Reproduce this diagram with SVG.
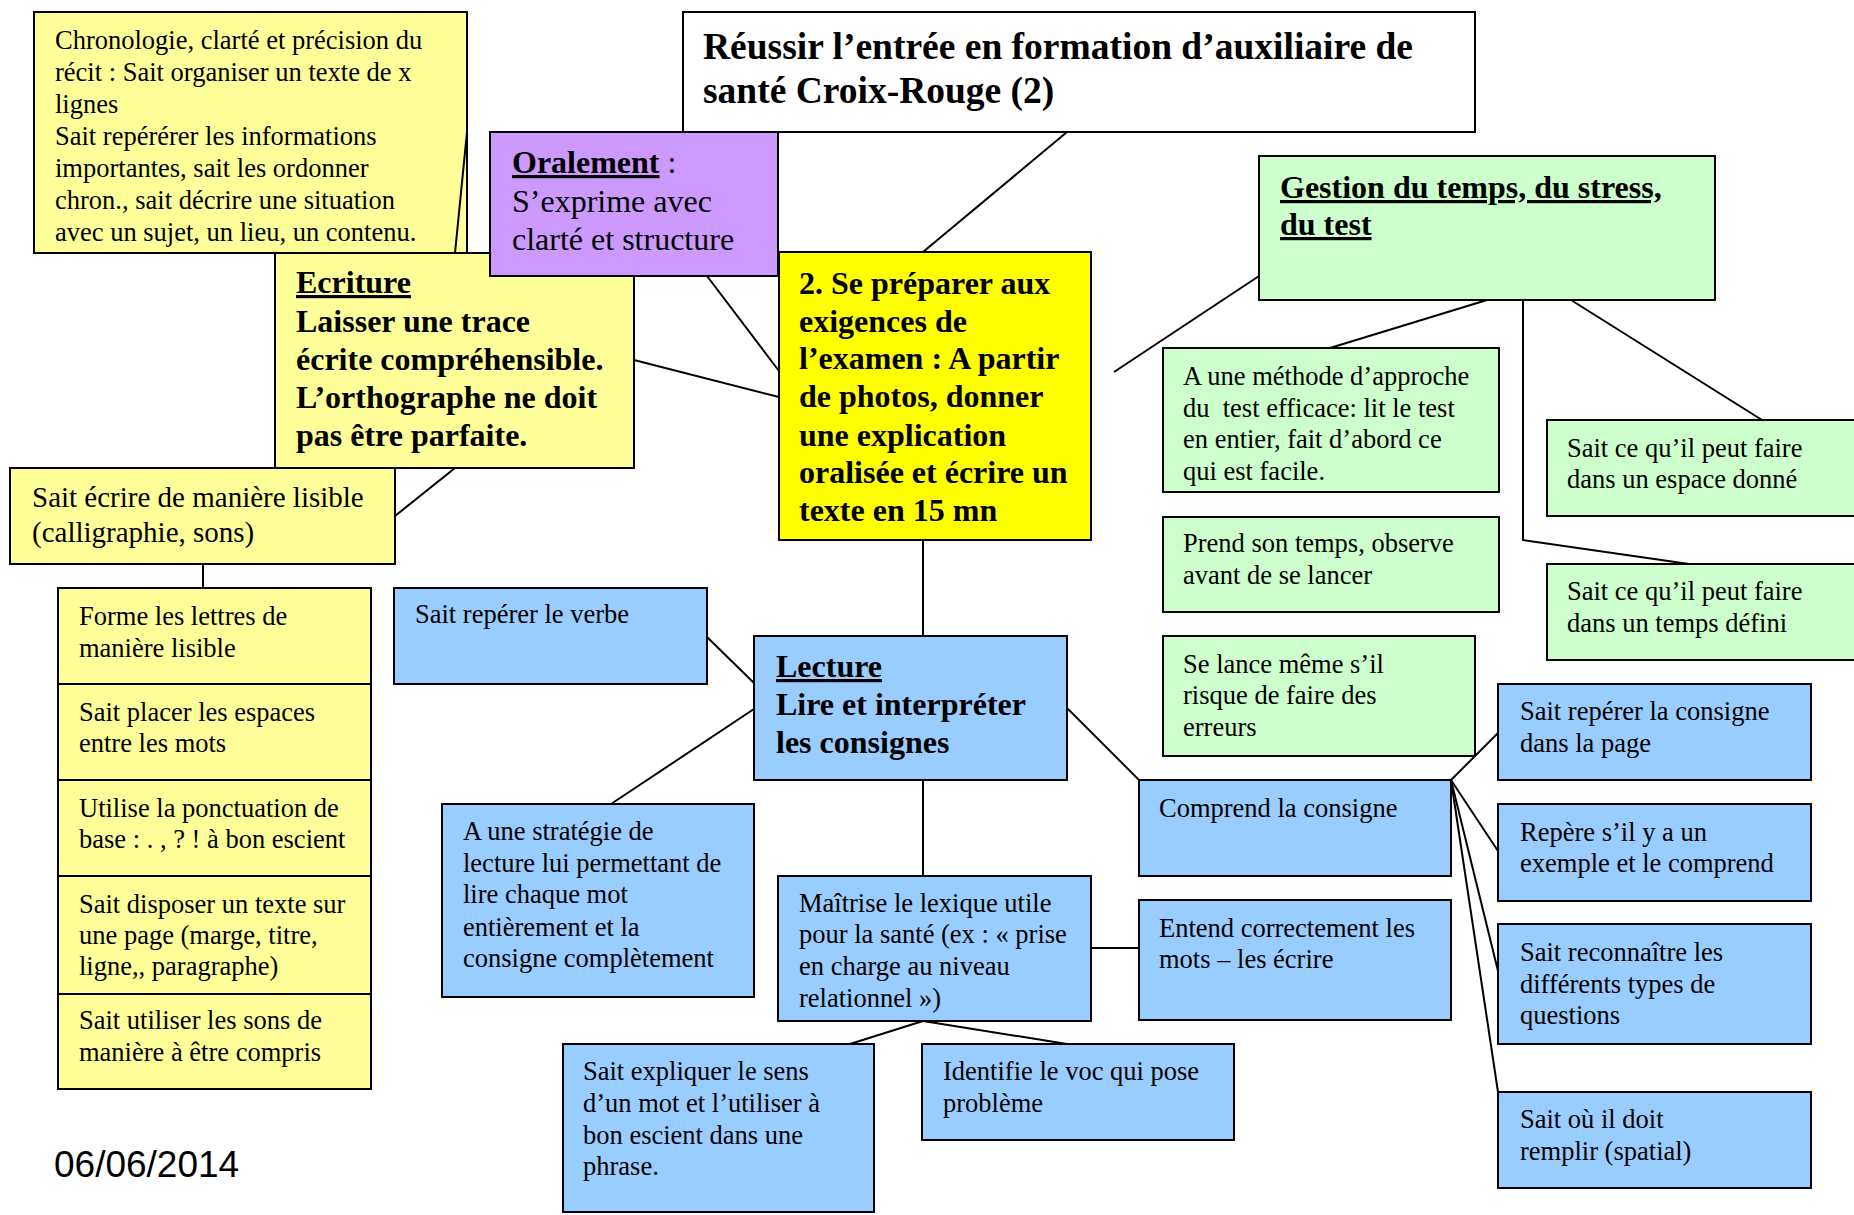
<svg xmlns="http://www.w3.org/2000/svg" width="1854" height="1215" viewBox="0 0 1854 1215">
<style>
rect{stroke:#000;stroke-width:2}
.y{fill:#FFFF99}.Y{fill:#FFFF00}.p{fill:#CC99FF}.g{fill:#CCFFCC}.b{fill:#99CCFF}.w{fill:#FFFFFF}
text{font-family:"Liberation Serif","Times New Roman",serif;fill:#000}
.t{font-size:26.5px}
.tw{font-size:29px}
.to{font-size:32px}
.tb{font-size:32px;font-weight:bold}
.tt{font-size:37.5px;font-weight:bold}
.u{text-decoration:underline}
.date{font-family:"Liberation Sans",Arial,sans-serif;font-size:37px}
#connectors line,#connectors polyline{stroke:#000;stroke-width:2;fill:none}
</style>
<rect x="0" y="0" width="1854" height="1215" fill="#FFFFFF" style="stroke:none"/>

<g id="chronologie">
<rect class="y" x="34" y="12" width="433" height="241"/>
<text class="t" x="55" y="49">Chronologie, clarté et précision du</text>
<text class="t" x="55" y="81">récit : Sait organiser un texte de x</text>
<text class="t" x="55" y="113">lignes</text>
<text class="t" x="55" y="145">Sait repérérer les informations</text>
<text class="t" x="55" y="177">importantes, sait les ordonner</text>
<text class="t" x="55" y="209">chron., sait décrire une situation</text>
<text class="t" x="55" y="241">avec un sujet, un lieu, un contenu.</text>
</g>

<g id="ecriture">
<rect class="y" x="275" y="253" width="359" height="215"/>
<text class="tb u" x="296" y="293">Ecriture</text>
<text class="tb" x="296" y="332">Laisser une trace</text>
<text class="tb" x="296" y="370">écrite compréhensible.</text>
<text class="tb" x="296" y="408">L’orthographe ne doit</text>
<text class="tb" x="296" y="446">pas être parfaite.</text>
</g>

<g id="oralement">
<rect class="p" x="490" y="132" width="288" height="144"/>
<text class="to" x="512" y="173"><tspan class="u" font-weight="bold">Oralement</tspan> :</text>
<text class="to" x="512" y="212">S’exprime avec</text>
<text class="to" x="512" y="250">clarté et structure</text>
</g>

<g id="titre">
<rect class="w" x="683" y="12" width="792" height="120"/>
<text class="tt" x="703" y="59">Réussir l’entrée en formation d’auxiliaire de</text>
<text class="tt" x="703" y="103">santé Croix-Rouge (2)</text>
</g>

<g id="central">
<rect class="Y" x="779" y="252" width="312" height="288"/>
<text class="tb" x="799" y="294">2. Se préparer aux</text>
<text class="tb" x="799" y="332">exigences de</text>
<text class="tb" x="799" y="369">l’examen : A partir</text>
<text class="tb" x="799" y="407">de photos, donner</text>
<text class="tb" x="799" y="446">une explication</text>
<text class="tb" x="799" y="483">oralisée et écrire un</text>
<text class="tb" x="799" y="521">texte en 15 mn</text>
</g>

<g id="gestion">
<rect class="g" x="1259" y="156" width="456" height="144"/>
<text class="tb u" x="1280" y="198">Gestion du temps, du stress,</text>
<text class="tb u" x="1280" y="235">du test</text>
</g>

<g id="methode">
<rect class="g" x="1163" y="348" width="336" height="144"/>
<text class="t" x="1183" y="385">A une méthode d’approche</text>
<text class="t" x="1183" y="417">du&#160; test efficace: lit le test</text>
<text class="t" x="1183" y="448">en entier, fait d’abord ce</text>
<text class="t" x="1183" y="480">qui est facile.</text>
</g>

<g id="prend-temps">
<rect class="g" x="1163" y="517" width="336" height="95"/>
<text class="t" x="1183" y="552">Prend son temps, observe</text>
<text class="t" x="1183" y="584">avant de se lancer</text>
</g>

<g id="se-lance">
<rect class="g" x="1163" y="636" width="312" height="120"/>
<text class="t" x="1183" y="673">Se lance même s’il</text>
<text class="t" x="1183" y="704">risque de faire des</text>
<text class="t" x="1183" y="736">erreurs</text>
</g>

<g id="espace">
<rect class="g" x="1547" y="420" width="315" height="96"/>
<text class="t" x="1567" y="457">Sait ce qu’il peut faire</text>
<text class="t" x="1567" y="488">dans un espace donné</text>
</g>

<g id="temps-defini">
<rect class="g" x="1547" y="564" width="315" height="96"/>
<text class="t" x="1567" y="600">Sait ce qu’il peut faire</text>
<text class="t" x="1567" y="632">dans un temps défini</text>
</g>

<g id="ecrire-lisible">
<rect class="y" x="10" y="468" width="385" height="96"/>
<text class="tw" x="32" y="507">Sait écrire de manière lisible</text>
<text class="tw" x="32" y="542">(calligraphie, sons)</text>
</g>

<g id="forme-lettres">
<rect class="y" x="58" y="588" width="313" height="96"/>
<text class="t" x="79" y="625">Forme les lettres de</text>
<text class="t" x="79" y="657">manière lisible</text>
</g>
<g id="espaces">
<rect class="y" x="58" y="684" width="313" height="96"/>
<text class="t" x="79" y="721">Sait placer les espaces</text>
<text class="t" x="79" y="752">entre les mots</text>
</g>
<g id="ponctuation">
<rect class="y" x="58" y="780" width="313" height="96"/>
<text class="t" x="79" y="817">Utilise la ponctuation de</text>
<text class="t" x="79" y="848">base : . , ? ! à bon escient</text>
</g>
<g id="disposer">
<rect class="y" x="58" y="876" width="313" height="118"/>
<text class="t" x="79" y="913">Sait disposer un texte sur</text>
<text class="t" x="79" y="944">une page (marge, titre,</text>
<text class="t" x="79" y="975">ligne,, paragraphe)</text>
</g>
<g id="sons">
<rect class="y" x="58" y="994" width="313" height="95"/>
<text class="t" x="79" y="1029">Sait utiliser les sons de</text>
<text class="t" x="79" y="1061">manière à être compris</text>
</g>

<g id="verbe">
<rect class="b" x="394" y="588" width="313" height="96"/>
<text class="t" x="415" y="623">Sait repérer le verbe</text>
</g>

<g id="lecture">
<rect class="b" x="754" y="636" width="313" height="144"/>
<text class="tb u" x="776" y="677">Lecture</text>
<text class="tb" x="776" y="715">Lire et interpréter</text>
<text class="tb" x="776" y="753">les consignes</text>
</g>

<g id="strategie">
<rect class="b" x="442" y="804" width="312" height="193"/>
<text class="t" x="463" y="840">A une stratégie de</text>
<text class="t" x="463" y="872">lecture lui permettant de</text>
<text class="t" x="463" y="903">lire chaque mot</text>
<text class="t" x="463" y="936">entièrement et la</text>
<text class="t" x="463" y="967">consigne complètement</text>
</g>

<g id="lexique">
<rect class="b" x="778" y="876" width="313" height="145"/>
<text class="t" x="799" y="912">Maîtrise le lexique utile</text>
<text class="t" x="799" y="943">pour la santé (ex : « prise</text>
<text class="t" x="799" y="975">en charge au niveau</text>
<text class="t" x="799" y="1007">relationnel »)</text>
</g>

<g id="comprend">
<rect class="b" x="1139" y="780" width="312" height="96"/>
<text class="t" x="1159" y="817">Comprend la consigne</text>
</g>

<g id="entend">
<rect class="b" x="1139" y="900" width="312" height="120"/>
<text class="t" x="1159" y="937">Entend correctement les</text>
<text class="t" x="1159" y="968">mots – les écrire</text>
</g>

<g id="expliquer">
<rect class="b" x="563" y="1044" width="311" height="168"/>
<text class="t" x="583" y="1080">Sait expliquer le sens</text>
<text class="t" x="583" y="1112">d’un mot et l’utiliser à</text>
<text class="t" x="583" y="1144">bon escient dans une</text>
<text class="t" x="583" y="1175">phrase.</text>
</g>

<g id="identifie">
<rect class="b" x="922" y="1044" width="312" height="96"/>
<text class="t" x="943" y="1080">Identifie le voc qui pose</text>
<text class="t" x="943" y="1112">problème</text>
</g>

<g id="reperer-consigne">
<rect class="b" x="1498" y="684" width="313" height="96"/>
<text class="t" x="1520" y="720">Sait repérer la consigne</text>
<text class="t" x="1520" y="752">dans la page</text>
</g>
<g id="exemple">
<rect class="b" x="1498" y="804" width="313" height="97"/>
<text class="t" x="1520" y="841">Repère s’il y a un</text>
<text class="t" x="1520" y="872">exemple et le comprend</text>
</g>
<g id="types-questions">
<rect class="b" x="1498" y="924" width="313" height="120"/>
<text class="t" x="1520" y="961">Sait reconnaître les</text>
<text class="t" x="1520" y="993">différents types de</text>
<text class="t" x="1520" y="1024">questions</text>
</g>
<g id="remplir">
<rect class="b" x="1498" y="1092" width="313" height="96"/>
<text class="t" x="1520" y="1128">Sait où il doit</text>
<text class="t" x="1520" y="1160">remplir (spatial)</text>
</g>

<g id="date">
<text class="date" x="54" y="1177">06/06/2014</text>
</g>

<g id="connectors">
<line x1="1067" y1="132" x2="923" y2="252"/>
<line x1="707" y1="276" x2="779" y2="371"/>
<line x1="634" y1="360" x2="779" y2="397"/>
<line x1="467" y1="132" x2="455" y2="253"/>
<line x1="455" y1="468" x2="395" y2="516"/>
<line x1="203" y1="564" x2="203" y2="588"/>
<line x1="923" y1="540" x2="923" y2="636"/>
<line x1="1114" y1="372" x2="1259" y2="276"/>
<line x1="1487" y1="300" x2="1330" y2="348"/>
<polyline points="1523,300 1523,540 1689,564"/>
<line x1="1571" y1="300" x2="1762" y2="420"/>
<line x1="707" y1="637" x2="754" y2="683"/>
<line x1="754" y1="709" x2="611" y2="804"/>
<line x1="923" y1="780" x2="923" y2="876"/>
<line x1="1067" y1="708" x2="1139" y2="780"/>
<line x1="1091" y1="948" x2="1139" y2="948"/>
<line x1="923" y1="1021" x2="850" y2="1044"/>
<line x1="923" y1="1021" x2="1067" y2="1044"/>
<line x1="1451" y1="780" x2="1498" y2="733"/>
<line x1="1451" y1="780" x2="1498" y2="851"/>
<line x1="1451" y1="780" x2="1498" y2="971"/>
<line x1="1451" y1="780" x2="1498" y2="1092"/>
</g>
</svg>
